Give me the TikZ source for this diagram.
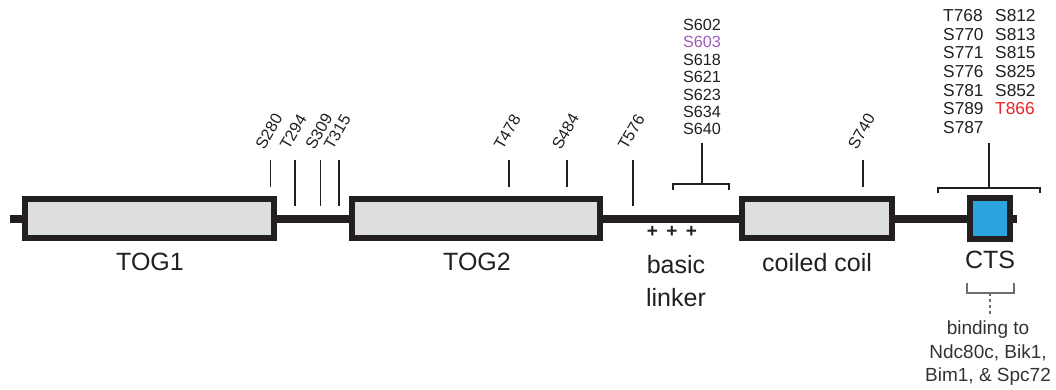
\documentclass[tikz,border=0pt]{standalone}
\usepackage{fontspec}
\setmainfont{Liberation Sans}
\usetikzlibrary{positioning,calc}
\definecolor{domgray}{HTML}{DDDEE0}
\definecolor{ctsblue}{HTML}{2AA3DE}
\definecolor{sitepurple}{HTML}{9D5CBB}
\definecolor{sitered}{HTML}{EC2227}
\definecolor{ink}{HTML}{231F20}
\definecolor{note}{HTML}{333333}
\definecolor{notegray}{HTML}{6D6E70}

\begin{document}
\begin{tikzpicture}[x=1pt,y=-1pt,
  dombox/.style={draw=ink,line width=6pt,fill=domgray,inner sep=0,minimum height=39pt},
  backbone/.style={draw=ink,line width=8pt},
  sitetick/.style={draw=ink,line width=1.7pt},
  site/.style={inner sep=0,text=ink,font=\fontsize{16.2}{17.4}\selectfont},
  dlabel/.style={inner sep=0,text=ink,align=center,font=\fontsize{25}{33}\selectfont}]
\useasboundingbox (0,0) rectangle (1056,390);
% domains
\node[dombox,minimum width=249pt] (tog1) at (149.5,218.5) {};
\node[dombox,minimum width=248pt] (tog2) at (476,218.5) {};
\node[dombox,minimum width=150pt] (coil) at (817,218.5) {};
\node[dombox,fill=ctsblue,minimum width=40pt,minimum height=41pt] (cts) at (990,218.5) {};
\coordinate (nterm) at (10,218.5); \coordinate (cterm) at (1017,218.5);
\draw[backbone] (nterm)--(tog1.west); \draw[backbone] (tog1.east)--(tog2.west);
\draw[backbone] (tog2.east)--(coil.west); \draw[backbone] (coil.east)--(cts.west);
\draw[backbone] (cts.east)--(cterm);
% domain names
\node[dlabel] (tog1lab) at (150,262) {TOG1};
\node[dlabel] (tog2lab) at (477,262) {TOG2};
\node[dlabel] (linklab) at (676,281) {basic\\linker};
\node[dlabel] (coillab) at (817,263) {coiled coil};
\node[dlabel] (ctslab) at (990,260) {CTS};
\node[inner sep=0,text=ink,font=\bfseries\fontsize{19}{19}\selectfont] (charge) at (672,232) {+\hspace{8.4pt}+\hspace{8.4pt}+};
% single sites
\foreach \x/\s/\b in {270.5/S280/187,295/T294/206,320.5/S309/206,339/T315/206,509/T478/187,567/S484/187,633/T576/206,863/S740/187}{
  \coordinate (\s top) at (\x,160); \coordinate (\s bot) at (\x,\b);
  \node[site,rotate=60,anchor=south west] (\s) at (\x-6,151) {\s};
  \draw[sitetick] (\s top)--(\s bot);
}
% linker cluster
\node[site,align=center,anchor=north] (stackA) at (702,19) {S602\\\textcolor{sitepurple}{S603}\\S618\\S621\\S623\\S634\\S640};
\coordinate (stemA) at (702,143); \coordinate (braceA) at (702,184);
\draw[sitetick] (stemA)--(braceA);
\draw[sitetick] (673,190) |- (braceA) -| (729,190);
% C-terminal cluster
\node[site,align=left,anchor=north west,font=\fontsize{17.3}{18.6}\selectfont] (stackB) at (943,9.5) {T768\\S770\\S771\\S776\\S781\\S789\\S787};
\node[site,align=left,anchor=north west,font=\fontsize{17.3}{18.6}\selectfont] (stackC) at (995,9.5) {S812\\S813\\S815\\S825\\S852\\\textcolor{sitered}{T866}};
\coordinate (stemB) at (989,143); \coordinate (braceB) at (989,188);
\draw[sitetick] (stemB)--(braceB);
\draw[sitetick] (938,193) |- (braceB) -| (1040,193);
% binding partners
\node[inner sep=0,text=note,align=center,font=\fontsize{19}{23.5}\selectfont] (binding) at (988,353.5) {binding to\\Ndc80c, Bik1,\\Bim1, \& Spc72};
\coordinate (braceC) at (990,293); \coordinate (dotend) at (990,317);
\draw[notegray,line width=2pt] (967,283) |- (braceC) -| (1014,283);
\draw[notegray,line width=2.5pt,dash pattern=on 3pt off 3pt] (braceC)--(dotend);
\end{tikzpicture}
\end{document}
